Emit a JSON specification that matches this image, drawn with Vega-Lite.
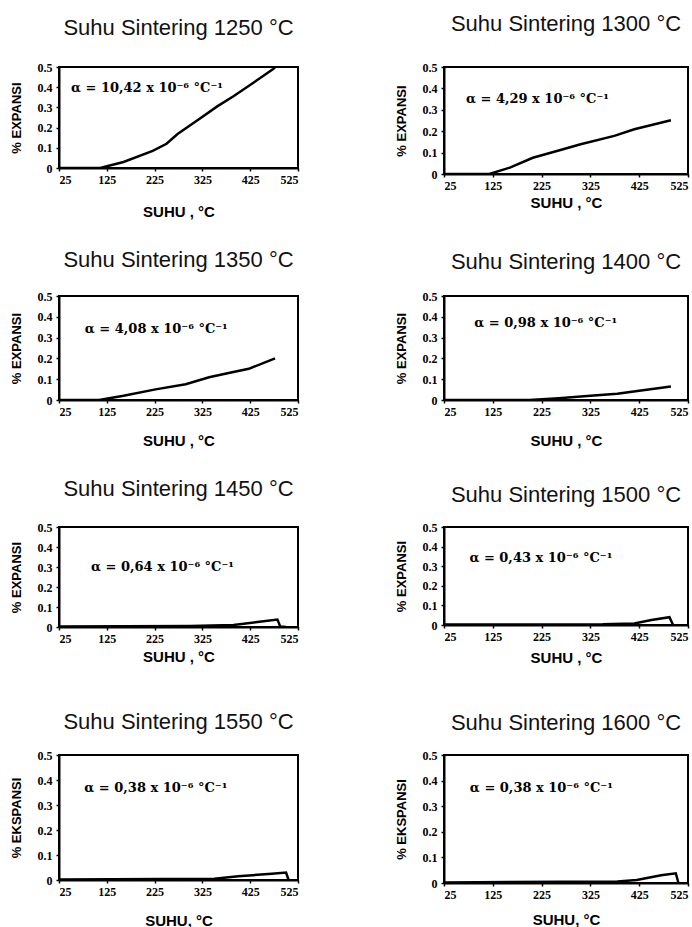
{
 "$schema": "https://vega.github.io/schema/vega-lite/v6.json",
 "autosize": {"type": "pad"},
 "padding": {"left": 9, "top": 12, "right": 0, "bottom": 0},
 "background": "white",
 "datasets": {
  "p1250": [{"suhu":25,"e":0},{"suhu":111,"e":0},{"suhu":160,"e":0.03},{"suhu":221,"e":0.085},{"suhu":250,"e":0.12},{"suhu":273,"e":0.168},{"suhu":320,"e":0.245},{"suhu":356,"e":0.305},{"suhu":390,"e":0.355},{"suhu":424,"e":0.41},{"suhu":455,"e":0.46},{"suhu":473,"e":0.49},{"suhu":485,"e":0.515}],
  "p1300": [{"suhu":25,"e":0},{"suhu":118,"e":0},{"suhu":160,"e":0.03},{"suhu":207,"e":0.076},{"suhu":260,"e":0.11},{"suhu":305,"e":0.139},{"suhu":374,"e":0.178},{"suhu":415,"e":0.209},{"suhu":490,"e":0.251}],
  "p1350": [{"suhu":25,"e":0},{"suhu":109,"e":0},{"suhu":160,"e":0.02},{"suhu":227,"e":0.051},{"suhu":290,"e":0.076},{"suhu":339,"e":0.109},{"suhu":380,"e":0.13},{"suhu":422,"e":0.15},{"suhu":477,"e":0.2}],
  "p1400": [{"suhu":25,"e":0},{"suhu":200,"e":0},{"suhu":260,"e":0.008},{"suhu":325,"e":0.02},{"suhu":380,"e":0.03},{"suhu":425,"e":0.045},{"suhu":490,"e":0.065}],
  "p1450": [{"suhu":25,"e":0.003},{"suhu":300,"e":0.005},{"suhu":390,"e":0.01},{"suhu":440,"e":0.025},{"suhu":482,"e":0.037},{"suhu":488,"e":0.002},{"suhu":500,"e":0}],
  "p1500": [{"suhu":25,"e":0.002},{"suhu":350,"e":0.004},{"suhu":415,"e":0.008},{"suhu":450,"e":0.025},{"suhu":487,"e":0.04},{"suhu":494,"e":0.003}],
  "p1550": [{"suhu":25,"e":0.002},{"suhu":350,"e":0.005},{"suhu":400,"e":0.015},{"suhu":470,"e":0.025},{"suhu":500,"e":0.03},{"suhu":505,"e":0.002}],
  "p1600": [{"suhu":25,"e":0.002},{"suhu":380,"e":0.006},{"suhu":420,"e":0.012},{"suhu":470,"e":0.03},{"suhu":500,"e":0.038},{"suhu":505,"e":0.003}]
 },
 "spacing": 28,
 "vconcat": [
  {"bounds": "flush", "spacing": 146, "hconcat": [
   {"width": 239, "height": 101, "title": {"text": "Suhu Sintering 1250 °C", "offset": 21},
    "encoding": {
     "x": {"field": "suhu", "type": "quantitative", "scale": {"domain": [25, 525], "nice": false}, "axis": {"values": [25,125,225,325,425,525], "title": "SUHU , °C", "titlePadding": 19}},
     "y": {"field": "e", "type": "quantitative", "scale": {"domain": [0, 0.5], "nice": false}, "axis": {"values": [0,0.1,0.2,0.3,0.4,0.5], "format": "~g", "title": "% EXPANSI"}}},
    "layer": [
     {"data": {"name": "p1250"}, "mark": {"type": "line", "color": "black", "strokeWidth": 2.5, "clip": true}},
     {"data": {"values": [{"suhu": 50, "e": 0.395, "label": "α = 10,42 x 10⁻⁶ °C⁻¹"}]}, "mark": {"type": "text", "align": "left", "font": "DejaVu Serif", "fontWeight": "bold", "fontSize": 13, "color": "black"}, "encoding": {"text": {"field": "label"}}}
    ]},
   {"width": 244, "height": 107, "title": {"text": "Suhu Sintering 1300 °C", "offset": 25},
    "encoding": {
     "x": {"field": "suhu", "type": "quantitative", "scale": {"domain": [25, 525], "nice": false}, "axis": {"values": [25,125,225,325,425,525], "title": "SUHU , °C", "titlePadding": 4}},
     "y": {"field": "e", "type": "quantitative", "scale": {"domain": [0, 0.5], "nice": false}, "axis": {"values": [0,0.1,0.2,0.3,0.4,0.5], "format": "~g", "title": "% EXPANSI"}}},
    "layer": [
     {"data": {"name": "p1300"}, "mark": {"type": "line", "color": "black", "strokeWidth": 2.5, "clip": true}},
     {"data": {"values": [{"suhu": 70, "e": 0.35, "label": "α = 4,29 x 10⁻⁶ °C⁻¹"}]}, "mark": {"type": "text", "align": "left", "font": "DejaVu Serif", "fontWeight": "bold", "fontSize": 13, "color": "black"}, "encoding": {"text": {"field": "label"}}}
    ]}
  ]},
  {"bounds": "flush", "spacing": 146, "hconcat": [
   {"width": 239, "height": 104, "title": {"text": "Suhu Sintering 1350 °C", "offset": 18},
    "encoding": {
     "x": {"field": "suhu", "type": "quantitative", "scale": {"domain": [25, 525], "nice": false}, "axis": {"values": [25,125,225,325,425,525], "title": "SUHU , °C", "titlePadding": 16}},
     "y": {"field": "e", "type": "quantitative", "scale": {"domain": [0, 0.5], "nice": false}, "axis": {"values": [0,0.1,0.2,0.3,0.4,0.5], "format": "~g", "title": "% EXPANSI"}}},
    "layer": [
     {"data": {"name": "p1350"}, "mark": {"type": "line", "color": "black", "strokeWidth": 2.5, "clip": true}},
     {"data": {"values": [{"suhu": 79, "e": 0.34, "label": "α = 4,08 x 10⁻⁶ °C⁻¹"}]}, "mark": {"type": "text", "align": "left", "font": "DejaVu Serif", "fontWeight": "bold", "fontSize": 13, "color": "black"}, "encoding": {"text": {"field": "label"}}}
    ]},
   {"width": 244, "height": 104, "title": {"text": "Suhu Sintering 1400 °C", "offset": 16},
    "encoding": {
     "x": {"field": "suhu", "type": "quantitative", "scale": {"domain": [25, 525], "nice": false}, "axis": {"values": [25,125,225,325,425,525], "title": "SUHU , °C", "titlePadding": 16}},
     "y": {"field": "e", "type": "quantitative", "scale": {"domain": [0, 0.5], "nice": false}, "axis": {"values": [0,0.1,0.2,0.3,0.4,0.5], "format": "~g", "title": "% EXPANSI"}}},
    "layer": [
     {"data": {"name": "p1400"}, "mark": {"type": "line", "color": "black", "strokeWidth": 2.5, "clip": true}},
     {"data": {"values": [{"suhu": 87, "e": 0.37, "label": "α = 0,98 x 10⁻⁶ °C⁻¹"}]}, "mark": {"type": "text", "align": "left", "font": "DejaVu Serif", "fontWeight": "bold", "fontSize": 13, "color": "black"}, "encoding": {"text": {"field": "label"}}}
    ]}
  ]},
  {"bounds": "flush", "spacing": 146, "hconcat": [
   {"width": 239, "height": 100, "title": {"text": "Suhu Sintering 1450 °C", "offset": 20},
    "encoding": {
     "x": {"field": "suhu", "type": "quantitative", "scale": {"domain": [25, 525], "nice": false}, "axis": {"values": [25,125,225,325,425,525], "title": ["SUHU , °C", ""], "titlePadding": 5}},
     "y": {"field": "e", "type": "quantitative", "scale": {"domain": [0, 0.5], "nice": false}, "axis": {"values": [0,0.1,0.2,0.3,0.4,0.5], "format": "~g", "title": "% EXPANSI"}}},
    "layer": [
     {"data": {"name": "p1450"}, "mark": {"type": "line", "color": "black", "strokeWidth": 2.5, "clip": true}},
     {"data": {"values": [{"suhu": 92, "e": 0.3, "label": "α = 0,64 x 10⁻⁶ °C⁻¹"}]}, "mark": {"type": "text", "align": "left", "font": "DejaVu Serif", "fontWeight": "bold", "fontSize": 13, "color": "black"}, "encoding": {"text": {"field": "label"}}}
    ]},
   {"width": 244, "height": 98, "title": {"text": "Suhu Sintering 1500 °C", "offset": 14},
    "encoding": {
     "x": {"field": "suhu", "type": "quantitative", "scale": {"domain": [25, 525], "nice": false}, "axis": {"values": [25,125,225,325,425,525], "title": "SUHU , °C", "titlePadding": 8}},
     "y": {"field": "e", "type": "quantitative", "scale": {"domain": [0, 0.5], "nice": false}, "axis": {"values": [0,0.1,0.2,0.3,0.4,0.5], "format": "~g", "title": "% EXPANSI"}}},
    "layer": [
     {"data": {"name": "p1500"}, "mark": {"type": "line", "color": "black", "strokeWidth": 2.5, "clip": true}},
     {"data": {"values": [{"suhu": 77, "e": 0.34, "label": "α = 0,43 x 10⁻⁶ °C⁻¹"}]}, "mark": {"type": "text", "align": "left", "font": "DejaVu Serif", "fontWeight": "bold", "fontSize": 13, "color": "black"}, "encoding": {"text": {"field": "label"}}}
    ]}
  ]},
  {"bounds": "flush", "spacing": 146, "hconcat": [
   {"width": 239, "height": 125, "title": {"text": "Suhu Sintering 1550 °C", "offset": 15},
    "encoding": {
     "x": {"field": "suhu", "type": "quantitative", "scale": {"domain": [25, 525], "nice": false}, "axis": {"values": [25,125,225,325,425,525], "title": "SUHU, °C", "titlePadding": 16}},
     "y": {"field": "e", "type": "quantitative", "scale": {"domain": [0, 0.5], "nice": false}, "axis": {"values": [0,0.1,0.2,0.3,0.4,0.5], "format": "~g", "title": "% EKSPANSI"}}},
    "layer": [
     {"data": {"name": "p1550"}, "mark": {"type": "line", "color": "black", "strokeWidth": 2.5, "clip": true}},
     {"data": {"values": [{"suhu": 78, "e": 0.37, "label": "α = 0,38 x 10⁻⁶ °C⁻¹"}]}, "mark": {"type": "text", "align": "left", "font": "DejaVu Serif", "fontWeight": "bold", "fontSize": 13, "color": "black"}, "encoding": {"text": {"field": "label"}}}
    ]},
   {"width": 244, "height": 128, "title": {"text": "Suhu Sintering 1600 °C", "offset": 14},
    "encoding": {
     "x": {"field": "suhu", "type": "quantitative", "scale": {"domain": [25, 525], "nice": false}, "axis": {"values": [25,125,225,325,425,525], "title": "SUHU, °C", "titlePadding": 12}},
     "y": {"field": "e", "type": "quantitative", "scale": {"domain": [0, 0.5], "nice": false}, "axis": {"values": [0,0.1,0.2,0.3,0.4,0.5], "format": "~g", "title": "% EKSPANSI"}}},
    "layer": [
     {"data": {"name": "p1600"}, "mark": {"type": "line", "color": "black", "strokeWidth": 2.5, "clip": true}},
     {"data": {"values": [{"suhu": 78, "e": 0.37, "label": "α = 0,38 x 10⁻⁶ °C⁻¹"}]}, "mark": {"type": "text", "align": "left", "font": "DejaVu Serif", "fontWeight": "bold", "fontSize": 13, "color": "black"}, "encoding": {"text": {"field": "label"}}}
    ]}
  ]}
 ],
 "config": {
  "view": {"stroke": "black", "strokeWidth": 2},
  "axis": {"grid": false, "domainColor": "black", "domainWidth": 2, "tickColor": "black", "tickSize": 3, "tickWidth": 1.5,
   "labelColor": "black", "labelFont": "Liberation Serif", "labelFontWeight": "bold", "labelFontSize": 12, "labelPadding": 3,
   "titleColor": "black", "titleFont": "Liberation Sans", "titleFontWeight": "bold", "titleFontSize": 15},
  "axisY": {"titleFontSize": 13, "titlePadding": 14, "labelPadding": 4},
  "title": {"font": "Liberation Sans", "fontSize": 22, "fontWeight": "normal", "color": "#111", "anchor": "middle"}
 }
}
